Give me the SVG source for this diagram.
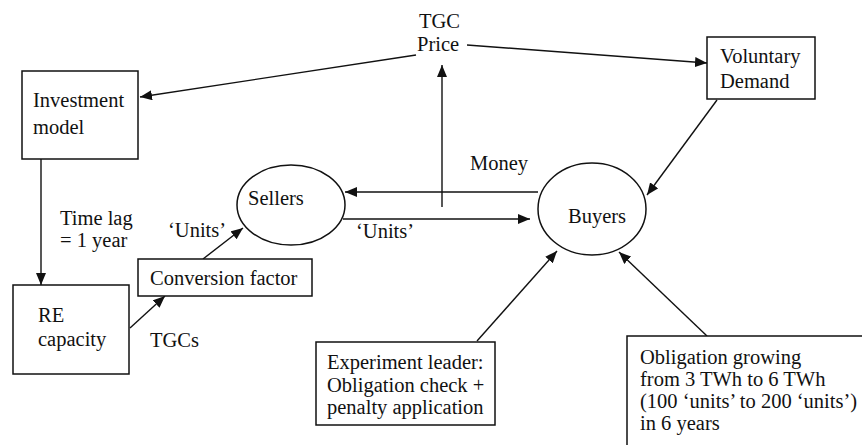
<svg xmlns="http://www.w3.org/2000/svg" width="862" height="445" viewBox="0 0 862 445" font-family="Liberation Serif, Tinos, Times New Roman, Times, DejaVu Serif, Noto Serif, serif">
<style>
text{font-size:20.5px;fill:#111}
.box{fill:#fff;stroke:#111;stroke-width:1.5}
.ell{fill:none;stroke:#111;stroke-width:1.5}
.con{fill:none;stroke:#111;stroke-width:1.4;marker-end:url(#ah)}
</style>
<defs>
<marker id="ah" markerUnits="userSpaceOnUse" markerWidth="12" markerHeight="10" refX="12" refY="5" orient="auto">
<path d="M0,0 L12,5 L0,10 z" fill="#111"/>
</marker>
</defs>
<rect width="862" height="445" fill="#fff"/>
<g id="connectors">
<line class="con" x1="416" y1="55" x2="140" y2="97"/>
<line class="con" x1="467" y1="45" x2="707" y2="63"/>
<line class="con" x1="717" y1="100" x2="647" y2="195"/>
<line class="con" x1="442" y1="207" x2="442" y2="65"/>
<line class="con" x1="538" y1="192" x2="345" y2="192"/>
<line class="con" x1="343" y1="219" x2="530" y2="219"/>
<line class="con" x1="41" y1="159" x2="41" y2="285"/>
<line class="con" x1="130" y1="328" x2="165" y2="296"/>
<line class="con" x1="203" y1="259" x2="243" y2="228"/>
<line class="con" x1="477" y1="341" x2="557" y2="251"/>
<line class="con" x1="707" y1="336" x2="619" y2="252"/>
<text x="470" y="170">Money</text>
<text x="356" y="238">‘Units’</text>
<text x="168" y="237">‘Units’</text>
<text x="60" y="225">Time lag</text>
<text x="60" y="247">= 1 year</text>
<text x="150" y="347">TGCs</text>
</g>
<g id="tgc-price">
<text x="419" y="28">TGC</text>
<text x="417" y="51">Price</text>
</g>
<g id="investment-model">
<rect class="box" x="22" y="71" width="116" height="88"/>
<text x="33" y="107">Investment</text>
<text x="33" y="134">model</text>
</g>
<g id="voluntary-demand">
<rect class="box" x="707" y="37" width="108" height="62"/>
<text x="720" y="63">Voluntary</text>
<text x="720" y="88">Demand</text>
</g>
<g id="sellers">
<ellipse class="ell" cx="291" cy="205" rx="54" ry="40"/>
<text x="248" y="205">Sellers</text>
</g>
<g id="buyers">
<ellipse class="ell" cx="592" cy="209" rx="54" ry="46"/>
<text x="568" y="223">Buyers</text>
</g>
<g id="re-capacity">
<rect class="box" x="13" y="285" width="116" height="89"/>
<text x="38" y="322">RE</text>
<text x="38" y="346">capacity</text>
</g>
<g id="conversion-factor">
<rect class="box" x="138" y="259" width="174" height="37"/>
<text x="150" y="285">Conversion factor</text>
</g>
<g id="experiment-leader">
<rect class="box" x="316" y="342" width="179" height="83"/>
<text x="327" y="369">Experiment leader:</text>
<text x="327" y="392">Obligation check +</text>
<text x="327" y="414">penalty application</text>
</g>
<g id="obligation">
<rect class="box" x="627" y="336" width="250" height="120"/>
<text x="640" y="364">Obligation growing</text>
<text x="640" y="386">from 3 TWh to 6 TWh</text>
<text x="640" y="408">(100 ‘units’ to 200 ‘units’)</text>
<text x="640" y="430">in 6 years</text>
</g>
</svg>
